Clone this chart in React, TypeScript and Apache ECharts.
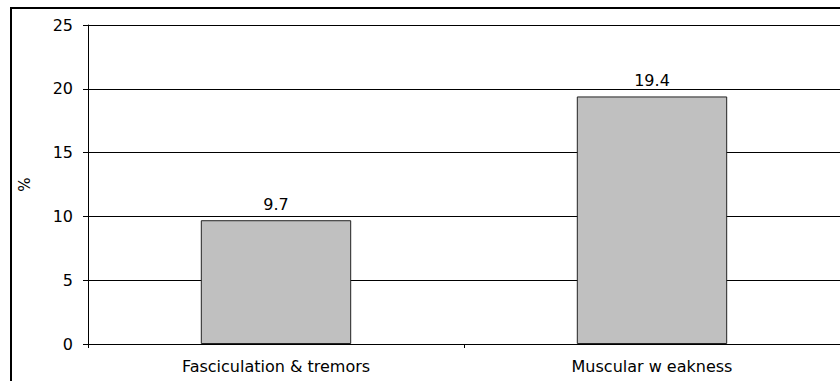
import React, { useEffect, useRef } from "react";
import * as echarts from "echarts";

const categories = ["Fasciculation & tremors", "Muscular w eakness"];
const percentages = [9.7, 19.4];
const yTicks = { min: 0, max: 25, interval: 5 };

export default function App() {
  const ref = useRef<HTMLDivElement>(null);

  useEffect(() => {
    if (!ref.current) return;
    const chart = echarts.init(ref.current, null, { renderer: "svg" });
    const font = "DejaVu Sans, Verdana, sans-serif";
    chart.setOption({
      animation: false,
      backgroundColor: "#ffffff",
      textStyle: { fontFamily: font },
      grid: { left: 88, right: -2, top: 25, bottom: 37 },
      graphic: [
        {
          type: "rect",
          shape: { x: 11, y: 8, width: 900, height: 500 },
          style: { fill: "none", stroke: "#000", lineWidth: 2 },
          silent: true,
        },
      ],
      xAxis: {
        type: "category",
        data: categories,
        axisLine: { lineStyle: { color: "#000", width: 1 } },
        axisTick: { show: true, alignWithLabel: false, length: 4, lineStyle: { color: "#000" } },
        axisLabel: { color: "#000", fontSize: 16, fontFamily: font, margin: 14 },
      },
      yAxis: {
        type: "value",
        min: yTicks.min,
        max: yTicks.max,
        interval: yTicks.interval,
        name: "%",
        nameLocation: "middle",
        nameRotate: 90,
        nameGap: 56,
        nameTextStyle: { color: "#000", fontSize: 15, fontFamily: font },
        axisLine: { show: true, lineStyle: { color: "#000", width: 1 } },
        axisTick: { show: true, length: 5, lineStyle: { color: "#000" } },
        axisLabel: { color: "#000", fontSize: 16, fontFamily: font, margin: 15 },
        splitLine: { show: true, lineStyle: { color: "#000", width: 1 } },
      },
      series: [
        {
          type: "bar",
          data: percentages,
          barWidth: "40%",
          itemStyle: { color: "#c0c0c0", borderColor: "#222", borderWidth: 1 },
          label: {
            show: true,
            position: "top",
            distance: 8,
            color: "#000",
            fontSize: 16,
            fontFamily: font,
            formatter: (p: any) => p.value.toFixed(1),
          },
        },
      ],
    });
    return () => chart.dispose();
  }, []);

  return (
    <div
      ref={ref}
      style={{ position: "absolute", left: 0, top: 0, width: 840, height: 381 }}
    />
  );
}
